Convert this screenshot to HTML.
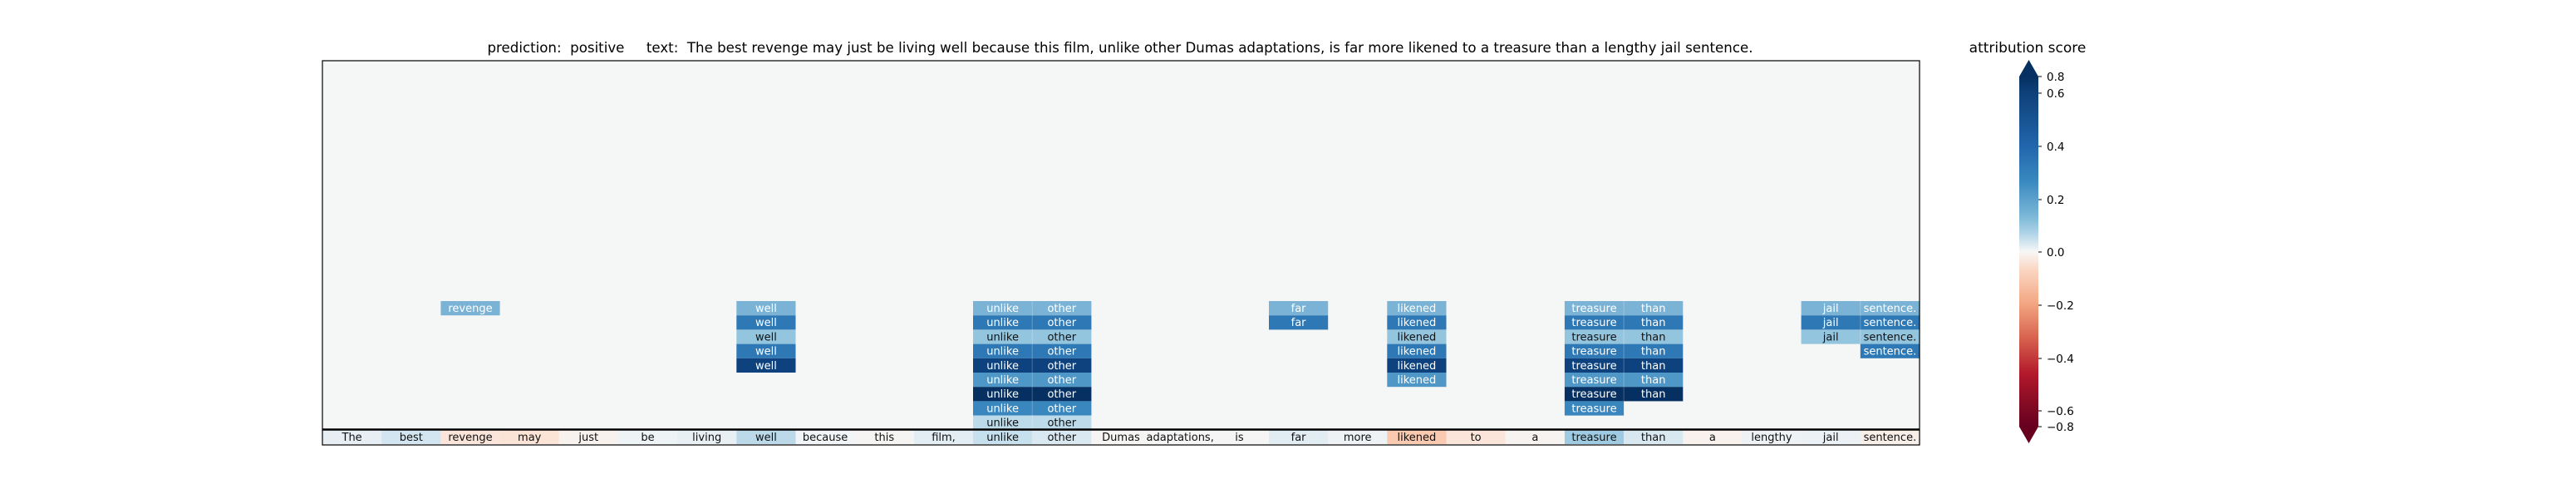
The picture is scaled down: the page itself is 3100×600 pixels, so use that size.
<!DOCTYPE html>
<html><head><meta charset="utf-8"><style>
html,body{margin:0;padding:0;background:#fff;}
svg{display:block;font-family:"DejaVu Sans","Liberation Sans",sans-serif;}
.t{font-size:13px;text-anchor:middle;}
.w{fill:#fff;} .b{fill:#111;}
</style></head><body>
<svg width="3100" height="600" viewBox="0 0 3100 600" xmlns="http://www.w3.org/2000/svg">
<defs>
<linearGradient id="cb" x1="0" y1="92" x2="0" y2="513" gradientUnits="userSpaceOnUse">
<stop offset="0" stop-color="#053061"/>
<stop offset="0.0475" stop-color="#0e4179"/>
<stop offset="0.2" stop-color="#2166ac"/>
<stop offset="0.3" stop-color="#3a89c0"/>
<stop offset="0.4" stop-color="#7db8d8"/>
<stop offset="0.45" stop-color="#b2d5e8"/>
<stop offset="0.5" stop-color="#f7f7f7"/>
<stop offset="0.55" stop-color="#fbd7c4"/>
<stop offset="0.65" stop-color="#f3a581"/>
<stop offset="0.75" stop-color="#d6604d"/>
<stop offset="0.85" stop-color="#b2182b"/>
<stop offset="0.955" stop-color="#7a0822"/>
<stop offset="1" stop-color="#67001f"/>
</linearGradient>
</defs>
<text x="1348" y="63" font-size="16.5" text-anchor="middle" textLength="1523" lengthAdjust="spacingAndGlyphs" fill="#000" xml:space="preserve">prediction:  positive     text:  The best revenge may just be living well because this film, unlike other Dumas adaptations, is far more likened to a treasure than a lengthy jail sentence.</text>

<rect x="388" y="73" width="1922" height="462" fill="#f5f6f6"/>

<g>
<rect x="388" y="517" width="71.2" height="17" fill="#e8eff4"/>
<rect x="459.2" y="517" width="71.2" height="17" fill="#d2e5f0"/>
<rect x="530.4" y="517" width="71.2" height="17" fill="#fbe5da"/>
<rect x="601.6" y="517" width="71.2" height="17" fill="#fbe3d6"/>
<rect x="672.7" y="517" width="71.2" height="17" fill="#f8f2ef"/>
<rect x="743.9" y="517" width="71.2" height="17" fill="#eef3f6"/>
<rect x="815.1" y="517" width="71.2" height="17" fill="#e9f0f4"/>
<rect x="886.3" y="517" width="71.2" height="17" fill="#bcd9ea"/>
<rect x="957.5" y="517" width="71.2" height="17" fill="#f2f5f7"/>
<rect x="1028.7" y="517" width="71.2" height="17" fill="#f6f4f3"/>
<rect x="1099.9" y="517" width="71.2" height="17" fill="#e3edf4"/>
<rect x="1171" y="517" width="71.2" height="17" fill="#c7e0ed"/>
<rect x="1242.2" y="517" width="71.2" height="17" fill="#dae8f1"/>
<rect x="1313.4" y="517" width="71.2" height="17" fill="#f6f5f4"/>
<rect x="1384.6" y="517" width="71.2" height="17" fill="#f5f5f5"/>
<rect x="1455.8" y="517" width="71.2" height="17" fill="#f5f5f5"/>
<rect x="1527" y="517" width="71.2" height="17" fill="#e2edf3"/>
<rect x="1598.1" y="517" width="71.2" height="17" fill="#eef2f5"/>
<rect x="1669.3" y="517" width="71.2" height="17" fill="#f9c9b0"/>
<rect x="1740.5" y="517" width="71.2" height="17" fill="#fbe5da"/>
<rect x="1811.7" y="517" width="71.2" height="17" fill="#f6f3f1"/>
<rect x="1882.9" y="517" width="71.2" height="17" fill="#9fcbe2"/>
<rect x="1954.1" y="517" width="71.2" height="17" fill="#d8e8f1"/>
<rect x="2025.3" y="517" width="71.2" height="17" fill="#f8f1ed"/>
<rect x="2096.4" y="517" width="71.2" height="17" fill="#eef2f5"/>
<rect x="2167.6" y="517" width="71.2" height="17" fill="#ecf1f5"/>
<rect x="2238.8" y="517" width="71.2" height="17" fill="#f9efe9"/>
</g>
<g class="t b">
<text x="423.6" y="530">The</text><text x="494.8" y="530">best</text><text x="566" y="530">revenge</text><text x="637.2" y="530">may</text><text x="708.3" y="530">just</text><text x="779.5" y="530">be</text><text x="850.7" y="530">living</text><text x="921.9" y="530">well</text><text x="993.1" y="530">because</text><text x="1064.3" y="530">this</text><text x="1135.5" y="530">film,</text><text x="1206.6" y="530">unlike</text><text x="1277.8" y="530">other</text><text x="1349" y="530">Dumas</text><text x="1420.2" y="530">adaptations,</text><text x="1491.4" y="530">is</text><text x="1562.6" y="530">far</text><text x="1633.7" y="530">more</text><text x="1704.9" y="530">likened</text><text x="1776.1" y="530">to</text><text x="1847.3" y="530">a</text><text x="1918.5" y="530">treasure</text><text x="1989.7" y="530">than</text><text x="2060.9" y="530">a</text><text x="2132" y="530">lengthy</text><text x="2203.2" y="530">jail</text><text x="2274.4" y="530">sentence.</text>
</g>

<g>
<rect x="530.4" y="362" width="71.2" height="17.2" fill="#7ab3d6"/>
<rect x="886.3" y="362" width="71.2" height="17.2" fill="#7ab3d6"/>
<rect x="886.3" y="379.2" width="71.2" height="17.2" fill="#2e79b5"/>
<rect x="886.3" y="396.4" width="71.2" height="17.2" fill="#94c5df"/>
<rect x="886.3" y="413.6" width="71.2" height="17.2" fill="#2e79b5"/>
<rect x="886.3" y="430.8" width="71.2" height="17.2" fill="#0d427e"/>
<rect x="1171" y="362" width="142.4" height="17.2" fill="#7ab3d6"/>
<rect x="1171" y="379.2" width="142.4" height="17.2" fill="#2e79b5"/>
<rect x="1171" y="396.4" width="142.4" height="17.2" fill="#94c5df"/>
<rect x="1171" y="413.6" width="142.4" height="17.2" fill="#2e79b5"/>
<rect x="1171" y="430.8" width="142.4" height="17.2" fill="#0d427e"/>
<rect x="1171" y="448" width="142.4" height="17.2" fill="#4f97c6"/>
<rect x="1171" y="465.2" width="142.4" height="17.2" fill="#053061"/>
<rect x="1171" y="482.4" width="142.4" height="17.2" fill="#3a86bf"/>
<rect x="1171" y="499.6" width="142.4" height="17.2" fill="#bcdaea"/>
<rect x="1527" y="362" width="71.2" height="17.2" fill="#7ab3d6"/>
<rect x="1527" y="379.2" width="71.2" height="17.2" fill="#2e79b5"/>
<rect x="1669.3" y="362" width="71.2" height="17.2" fill="#7ab3d6"/>
<rect x="1669.3" y="379.2" width="71.2" height="17.2" fill="#2e79b5"/>
<rect x="1669.3" y="396.4" width="71.2" height="17.2" fill="#94c5df"/>
<rect x="1669.3" y="413.6" width="71.2" height="17.2" fill="#2e79b5"/>
<rect x="1669.3" y="430.8" width="71.2" height="17.2" fill="#0d427e"/>
<rect x="1669.3" y="448" width="71.2" height="17.2" fill="#4f97c6"/>
<rect x="1882.9" y="362" width="142.4" height="17.2" fill="#7ab3d6"/>
<rect x="1882.9" y="379.2" width="142.4" height="17.2" fill="#2e79b5"/>
<rect x="1882.9" y="396.4" width="142.4" height="17.2" fill="#94c5df"/>
<rect x="1882.9" y="413.6" width="142.4" height="17.2" fill="#2e79b5"/>
<rect x="1882.9" y="430.8" width="142.4" height="17.2" fill="#0d427e"/>
<rect x="1882.9" y="448" width="142.4" height="17.2" fill="#4f97c6"/>
<rect x="1882.9" y="465.2" width="142.4" height="17.2" fill="#053061"/>
<rect x="1882.9" y="482.4" width="71.2" height="17.2" fill="#3a86bf"/>
<rect x="2167.6" y="362" width="142.4" height="17.2" fill="#7ab3d6"/>
<rect x="2167.6" y="379.2" width="142.4" height="17.2" fill="#2e79b5"/>
<rect x="2167.6" y="396.4" width="142.4" height="17.2" fill="#94c5df"/>
<rect x="2238.8" y="413.6" width="71.2" height="17.2" fill="#2e79b5"/>
</g>
<g stroke="#ffffff" stroke-opacity="0.25" stroke-width="1">
<line x1="1242.2" y1="362" x2="1242.2" y2="517"/>
<line x1="1954.1" y1="362" x2="1954.1" y2="482"/>
<line x1="2238.8" y1="362" x2="2238.8" y2="413"/>
</g>
<g class="t w">
<text x="566" y="375">revenge</text>
<text x="921.9" y="375">well</text><text x="921.9" y="392.2">well</text><text x="921.9" y="409.4" fill="#111">well</text><text x="921.9" y="426.6">well</text><text x="921.9" y="443.8">well</text>
<text x="1206.6" y="375">unlike</text><text x="1206.6" y="392.2">unlike</text><text x="1206.6" y="409.4" fill="#111">unlike</text><text x="1206.6" y="426.6">unlike</text><text x="1206.6" y="443.8">unlike</text><text x="1206.6" y="461">unlike</text><text x="1206.6" y="478.2">unlike</text><text x="1206.6" y="495.4">unlike</text><text x="1206.6" y="512.6" fill="#111">unlike</text>
<text x="1277.8" y="375">other</text><text x="1277.8" y="392.2">other</text><text x="1277.8" y="409.4" fill="#111">other</text><text x="1277.8" y="426.6">other</text><text x="1277.8" y="443.8">other</text><text x="1277.8" y="461">other</text><text x="1277.8" y="478.2">other</text><text x="1277.8" y="495.4">other</text><text x="1277.8" y="512.6" fill="#111">other</text>
<text x="1562.6" y="375">far</text><text x="1562.6" y="392.2">far</text>
<text x="1704.9" y="375">likened</text><text x="1704.9" y="392.2">likened</text><text x="1704.9" y="409.4" fill="#111">likened</text><text x="1704.9" y="426.6">likened</text><text x="1704.9" y="443.8">likened</text><text x="1704.9" y="461">likened</text>
<text x="1918.5" y="375">treasure</text><text x="1918.5" y="392.2">treasure</text><text x="1918.5" y="409.4" fill="#111">treasure</text><text x="1918.5" y="426.6">treasure</text><text x="1918.5" y="443.8">treasure</text><text x="1918.5" y="461">treasure</text><text x="1918.5" y="478.2">treasure</text><text x="1918.5" y="495.4">treasure</text>
<text x="1989.7" y="375">than</text><text x="1989.7" y="392.2">than</text><text x="1989.7" y="409.4" fill="#111">than</text><text x="1989.7" y="426.6">than</text><text x="1989.7" y="443.8">than</text><text x="1989.7" y="461">than</text><text x="1989.7" y="478.2">than</text>
<text x="2203.2" y="375">jail</text><text x="2203.2" y="392.2">jail</text><text x="2203.2" y="409.4" fill="#111">jail</text>
<text x="2274.4" y="375">sentence.</text><text x="2274.4" y="392.2">sentence.</text><text x="2274.4" y="409.4" fill="#111">sentence.</text><text x="2274.4" y="426.6">sentence.</text>
</g>

<line x1="388" y1="516.5" x2="2310" y2="516.5" stroke="#000" stroke-width="2.5"/>
<rect x="388" y="73" width="1922" height="462" fill="none" stroke="#000" stroke-width="1.2"/>

<text x="2440" y="63" font-size="17" text-anchor="middle">attribution score</text>
<polygon points="2441.5,72 2453,92 2430,92" fill="#053061"/>
<rect x="2430" y="92" width="23" height="421" fill="url(#cb)"/>
<polygon points="2430,513 2453,513 2441.5,533" fill="#67001f"/>
<g stroke="#000" stroke-width="1">
<line x1="2453" y1="92" x2="2457" y2="92"/><line x1="2453" y1="112" x2="2457" y2="112"/><line x1="2453" y1="176" x2="2457" y2="176"/><line x1="2453" y1="240" x2="2457" y2="240"/><line x1="2453" y1="303" x2="2457" y2="303"/><line x1="2453" y1="367" x2="2457" y2="367"/><line x1="2453" y1="431" x2="2457" y2="431"/><line x1="2453" y1="494" x2="2457" y2="494"/><line x1="2453" y1="513" x2="2457" y2="513"/>
</g>
<g font-size="13.5" fill="#000">
<text x="2463" y="97">0.8</text><text x="2463" y="117">0.6</text><text x="2463" y="181">0.4</text><text x="2463" y="245">0.2</text><text x="2463" y="308">0.0</text><text x="2463" y="372">−0.2</text><text x="2463" y="436">−0.4</text><text x="2463" y="499">−0.6</text><text x="2463" y="518">−0.8</text>
</g>
</svg>
</body></html>
